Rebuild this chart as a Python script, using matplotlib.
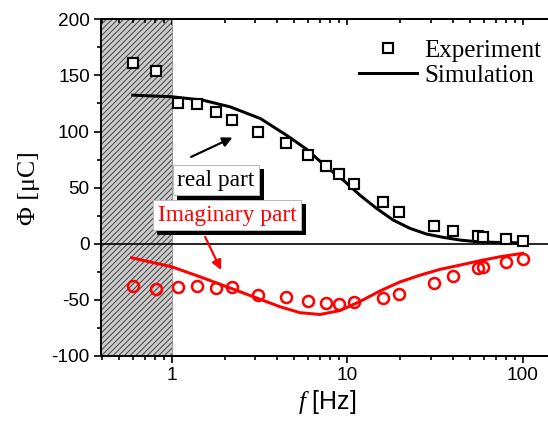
import matplotlib
matplotlib.use("Agg")
import matplotlib.pyplot as plt
import matplotlib.patheffects as pe
from matplotlib.ticker import MultipleLocator, FixedLocator, LogLocator, NullFormatter

plt.rcParams['mathtext.fontset'] = 'custom'
plt.rcParams['mathtext.it'] = 'Liberation Serif:italic'
plt.rcParams['mathtext.rm'] = 'Liberation Sans'
plt.rcParams['hatch.linewidth'] = 0.6
plt.rcParams['axes.unicode_minus'] = False

# ---- data ----
f_exp = [0.60, 0.81, 1.08, 1.39, 1.78, 2.21, 3.09, 4.48, 6.0, 7.57, 9.0, 10.97,
         15.9, 19.8, 31.4, 39.9, 55.4, 59.6, 80.4, 100]
real_exp = [161.5, 153.5, 125, 124.6, 117.5, 110, 99.4, 89.6, 79, 69.2, 62, 52.9,
            36.8, 28.5, 15.8, 11.3, 6.9, 6.2, 3.9, 2.7]
imag_exp = [-37.4, -40.6, -38.3, -37.7, -39.7, -38.8, -45.7, -47.7, -51, -52.7, -53.7, -52.2,
            -48.6, -44.8, -35.3, -28.8, -21.9, -20.5, -16.3, -13.3]

f_sim_real = [0.6, 1.0, 1.5, 2.15, 3.2, 4.5, 5.9, 7.6, 9.5, 11.8, 14.7, 18.3, 22.8,
              28.4, 35.3, 44, 55, 71, 100]
real_sim = [132.4, 131, 128, 122, 111.6, 96.8, 84, 68.5, 56.7, 43.4, 31.5, 21.1, 13.7,
            8.6, 5.7, 3.3, 1.8, 1.2, 0.8]

f_sim_imag = [0.59, 1.0, 1.45, 2.06, 2.92, 4.14, 5.38, 7.0, 9.1, 11.8, 15.4, 20, 26,
              33.8, 44, 57, 74, 100]
imag_sim = [-12.5, -20.5, -29.4, -38.3, -47.2, -56.1, -61.4, -63, -59.5, -51.5, -42, -34, -28,
            -22.8, -19, -15.1, -11.6, -8.5]

shaded_range = [0.3955, 1.0]
xlim = [0.3955, 150]
ylim = [-100, 200]
xticks = [1, 10, 100]
xtick_labels = ['1', '10', '100']

# annotation anchors (text centre, arrow tail, arrow head)
real_text_xy = (1.79, 56.7)
real_arrow = [(1.29, 77.4), (2.22, 94.6)]
imag_text_xy = (2.07, 25.5)
imag_arrow = [(1.55, 6.2), (1.91, -23.4)]

# ---- figure ----
DPI = 120
fig = plt.figure(figsize=(548 / DPI, 424 / DPI), dpi=DPI)
W, H = 548, 424
ax = fig.add_axes([101 / W, 1 - 356 / H, (553.6 - 101) / W, (356 - 19.3) / H])

ax.set_xscale('log')
ax.set_xlim(*xlim)
ax.set_ylim(*ylim)

ax.axvspan(shaded_range[0], shaded_range[1], facecolor='#cccccc', edgecolor='#444444',
           hatch='///////', linewidth=0, zorder=0)
ax.axvline(shaded_range[1], color='#9a9a9a', lw=0.6, zorder=0.5)
ax.axhline(0, color='black', lw=1.0, zorder=1)

sim_line, = ax.plot(f_sim_real, real_sim, color='black', lw=1.8, zorder=2)
ax.plot(f_sim_imag, imag_sim, color='#ff0000', lw=1.8, zorder=2)
sq, = ax.plot(f_exp, real_exp, linestyle='none', marker='s', markersize=6,
              markerfacecolor='white', markeredgecolor='black', markeredgewidth=1.3,
              zorder=3)
ax.plot(f_exp, imag_exp, linestyle='none', marker='o', markersize=6.6,
        markerfacecolor='none', markeredgecolor='#ff0000', markeredgewidth=1.5, zorder=3)

for s in ['left', 'bottom', 'top']:
    ax.spines[s].set_linewidth(1.2)
ax.spines['right'].set_visible(False)

ax.xaxis.set_major_locator(FixedLocator(xticks))
ax.set_xticklabels(xtick_labels)
ax.xaxis.set_minor_locator(LogLocator(base=10, subs=range(2, 10)))
ax.xaxis.set_minor_formatter(NullFormatter())
ax.yaxis.set_major_locator(MultipleLocator(50))
ax.yaxis.set_minor_locator(MultipleLocator(25))
ax.tick_params(axis='both', which='major', direction='out', length=4.2, width=1.0,
               labelsize=11.4, pad=2.5)
ax.tick_params(axis='both', which='minor', direction='out', length=2.4, width=1.0)
for lab in ax.get_xticklabels() + ax.get_yticklabels():
    lab.set_fontfamily('Liberation Sans')

sec = ax.secondary_xaxis('top')
sec.xaxis.set_major_locator(FixedLocator(xticks))
sec.xaxis.set_minor_locator(LogLocator(base=10, subs=range(2, 10)))
sec.xaxis.set_minor_formatter(NullFormatter())
sec.tick_params(axis='x', which='major', direction='in', length=3.6, width=1.0, labeltop=False)
sec.tick_params(axis='x', which='minor', direction='in', length=2.2, width=1.0)
sec.spines['top'].set_linewidth(1.2)

ax.set_xlabel(r'$\mathit{f}$ [Hz]', fontsize=15, fontfamily='Liberation Sans', labelpad=2)
ax.set_ylabel('Φ [μC]', fontsize=15.5, fontfamily='Liberation Serif', labelpad=7)

ax.legend(handles=[sq, sim_line], labels=['Experiment', 'Simulation'],
          loc='upper left', bbox_to_anchor=(359 / W, 1 - 39 / H),
          bbox_transform=fig.transFigure, frameon=False, borderpad=0,
          borderaxespad=0, handlelength=2.32, handletextpad=0.28,
          labelspacing=0.1, prop={'family': 'Liberation Serif', 'size': 15})

shadow = [pe.withSimplePatchShadow(offset=(2.6, -2.6), shadow_rgbFace='black', alpha=1.0)]
box = dict(boxstyle='square,pad=0.2', facecolor='white', edgecolor='#bbbbbb', linewidth=0.6)

t1 = ax.text(*real_text_xy, 'real part', fontsize=14, fontfamily='Liberation Serif',
             color='black', ha='center', va='center', zorder=5, bbox=dict(box))
t1.get_bbox_patch().set_path_effects(shadow)
t2 = ax.text(*imag_text_xy, 'Imaginary part', fontsize=14, fontfamily='Liberation Serif',
             color='#ff0000', ha='center', va='center', zorder=6, bbox=dict(box))
t2.get_bbox_patch().set_path_effects(shadow)

ax.annotate('', xy=real_arrow[1], xytext=real_arrow[0], zorder=4,
            arrowprops=dict(arrowstyle='-|>', color='black', lw=1.3,
                            mutation_scale=12, shrinkA=0, shrinkB=0))
ax.annotate('', xy=imag_arrow[1], xytext=imag_arrow[0], zorder=4,
            arrowprops=dict(arrowstyle='-|>', color='#ff0000', lw=1.3,
                            mutation_scale=12, shrinkA=0, shrinkB=0))

fig.savefig('out.png', dpi=DPI)
